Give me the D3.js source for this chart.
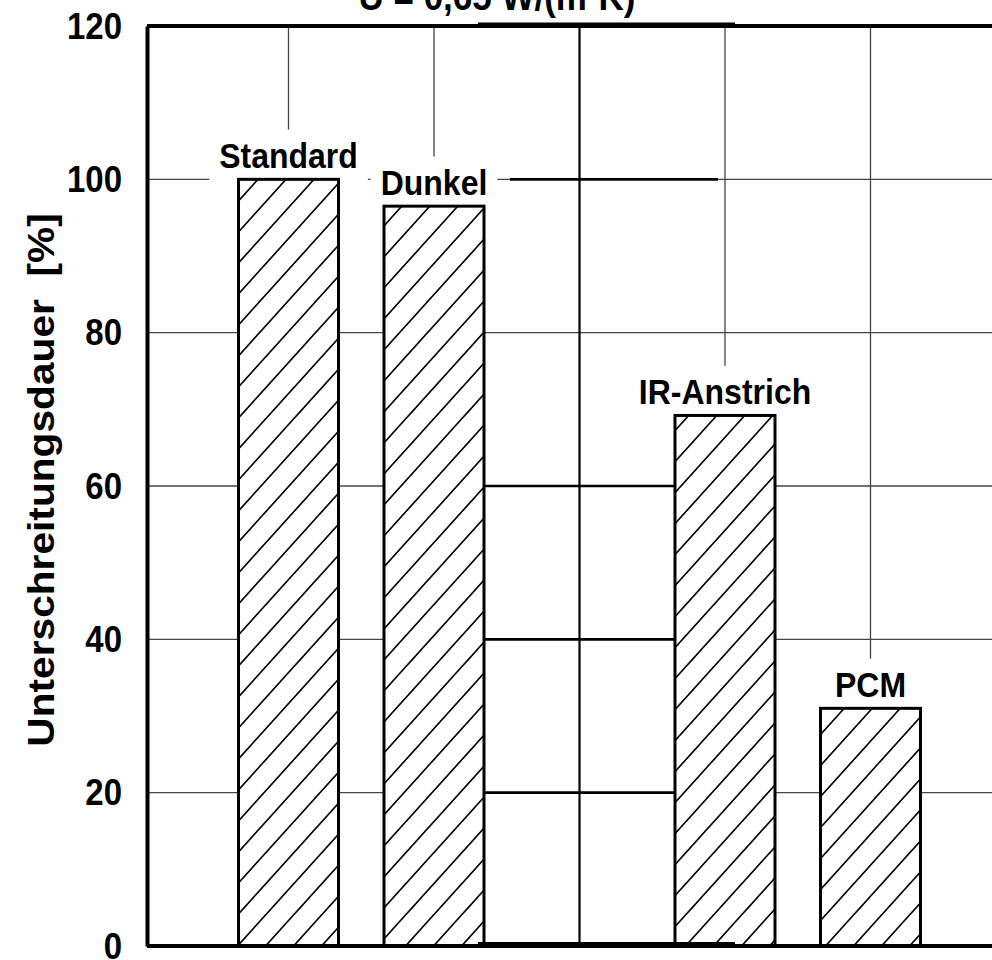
<!DOCTYPE html>
<html>
<head>
<meta charset="utf-8">
<script src="https://cdn.jsdelivr.net/npm/d3@7"></script>
<style>
  html, body { margin: 0; padding: 0; background: #fff; }
  svg { display: block; font-family: "Liberation Sans", Arial, sans-serif; font-weight: bold; }
  text { white-space: pre; }
</style>
</head>
<body>
<svg id="chart" width="992" height="960"></svg>
<script>
// Variants and their share of time below the threshold (in %)
const categories = ["Standard", "Dunkel", " ", "IR-Anstrich", "PCM"];
const values = [100, 96.5, null, 69.2, 31.0];
const yTicks = [0, 20, 40, 60, 80, 100, 120];
const title = "U = 0,65 W/(m²K)";
const yTitle = "Unterschreitungsdauer  [%]";

const svg = d3.select("#chart");
const plotL = 147, plotT = 26, plotB = 946, plotR = 1016;
const stretch = 1.12; // lettering is set slightly tall

const y = d3.scaleLinear().domain([0, 120]).range([plotB, plotT]);
const x = d3.scalePoint().domain(categories).range([plotL - 4, plotR]).padding(1);
const barW = 100;

// diagonal hatch fill
const defs = svg.append("defs");
const pat = defs.append("pattern")
  .attr("id", "hatch")
  .attr("patternUnits", "userSpaceOnUse")
  .attr("width", 28).attr("height", 31);
pat.append("rect").attr("width", 28).attr("height", 31).attr("fill", "#fff");
pat.append("path")
  .attr("d", "M0,31 L28,0 M-3,3.3 L3,-3.3 M25,34.3 L31,27.7")
  .attr("stroke", "#000").attr("stroke-width", 1.6).attr("fill", "none");

// grid
const grid = svg.append("g");
grid.selectAll("line.h").data(yTicks.filter(t => t > 0 && t < 120)).join("line")
  .attr("x1", plotL).attr("x2", 992)
  .attr("y1", d => y(d)).attr("y2", d => y(d))
  .attr("stroke", "#444").attr("stroke-width", 1.3);
grid.selectAll("line.v").data(categories).join("line")
  .attr("x1", d => x(d)).attr("x2", d => x(d))
  .attr("y1", plotT).attr("y2", plotB)
  .attr("stroke", (d, i) => values[i] == null ? "#000" : "#444")
  .attr("stroke-width", (d, i) => values[i] == null ? 2.2 : 1.3);

// heavier rule segments across the empty slot
const xa = x("Dunkel") + barW / 2, xb = x("IR-Anstrich") - barW / 2;
grid.selectAll("line.e").data([20, 40, 60]).join("line")
  .attr("x1", xa).attr("x2", xb)
  .attr("y1", d => y(d)).attr("y2", d => y(d))
  .attr("stroke", "#000").attr("stroke-width", 2.6);
grid.append("line")
  .attr("x1", xa + 26).attr("x2", xb + 43)
  .attr("y1", y(100)).attr("y2", y(100))
  .attr("stroke", "#000").attr("stroke-width", 2.6);

// value labels with white backing
const bars = categories.map((c, i) => ({ c, v: values[i] })).filter(d => d.v != null);
const lab = svg.append("g").selectAll("g").data(bars).join("g")
  .attr("transform", d => `translate(${x(d.c)},${y(d.v) - 11})`);
lab.append("text")
  .attr("transform", `scale(1,${stretch})`)
  .attr("text-anchor", "middle").attr("font-size", 32)
  .text(d => d.c);
lab.each(function() {
  const g = d3.select(this);
  const b = g.select("text").node().getBBox();
  g.insert("rect", "text")
    .attr("x", b.x - 10).attr("y", b.y * stretch - 6)
    .attr("width", b.width + 20).attr("height", b.height * stretch + 14)
    .attr("fill", "#fff");
});

// bars
svg.append("g").selectAll("rect").data(bars).join("rect")
  .attr("x", d => x(d.c) - barW / 2).attr("width", barW)
  .attr("y", d => y(d.v)).attr("height", d => y(0) - y(d.v))
  .attr("fill", "url(#hatch)").attr("stroke", "#000").attr("stroke-width", 3);

// frame
svg.append("line").attr("x1", plotL).attr("x2", 992).attr("y1", plotT).attr("y2", plotT)
  .attr("stroke", "#000").attr("stroke-width", 4);
svg.append("line").attr("x1", plotL).attr("x2", 992).attr("y1", plotB).attr("y2", plotB)
  .attr("stroke", "#000").attr("stroke-width", 4);
svg.append("line").attr("x1", xa - 6).attr("x2", xb + 60).attr("y1", plotT - 1).attr("y2", plotT - 1)
  .attr("stroke", "#000").attr("stroke-width", 5);
svg.append("line").attr("x1", xa - 6).attr("x2", xb + 60).attr("y1", plotB - 1.5).attr("y2", plotB - 1.5)
  .attr("stroke", "#000").attr("stroke-width", 5);

// y axis
const yAxis = svg.append("g").attr("transform", `translate(${plotL},0)`)
  .call(d3.axisLeft(y).tickValues(yTicks).tickSize(0).tickPadding(25));
yAxis.select(".domain").attr("stroke", "#000").attr("stroke-width", 4);
yAxis.selectAll("text")
  .attr("font-size", 33).attr("font-weight", "bold")
  .attr("fill", "#000").attr("font-family", "'Liberation Sans', Arial, sans-serif")
  .attr("dy", "0.33em")
  .attr("transform", `scale(1,${stretch})`);

// titles
svg.append("text")
  .attr("transform", `translate(54,480) rotate(-90) scale(${stretch + 0.01},1)`)
  .attr("text-anchor", "middle").attr("font-size", 36)
  .text(yTitle);
svg.append("text")
  .attr("transform", `translate(497,10) scale(1,${stretch})`)
  .attr("text-anchor", "middle").attr("font-size", 35)
  .text(title);
</script>
</body>
</html>
